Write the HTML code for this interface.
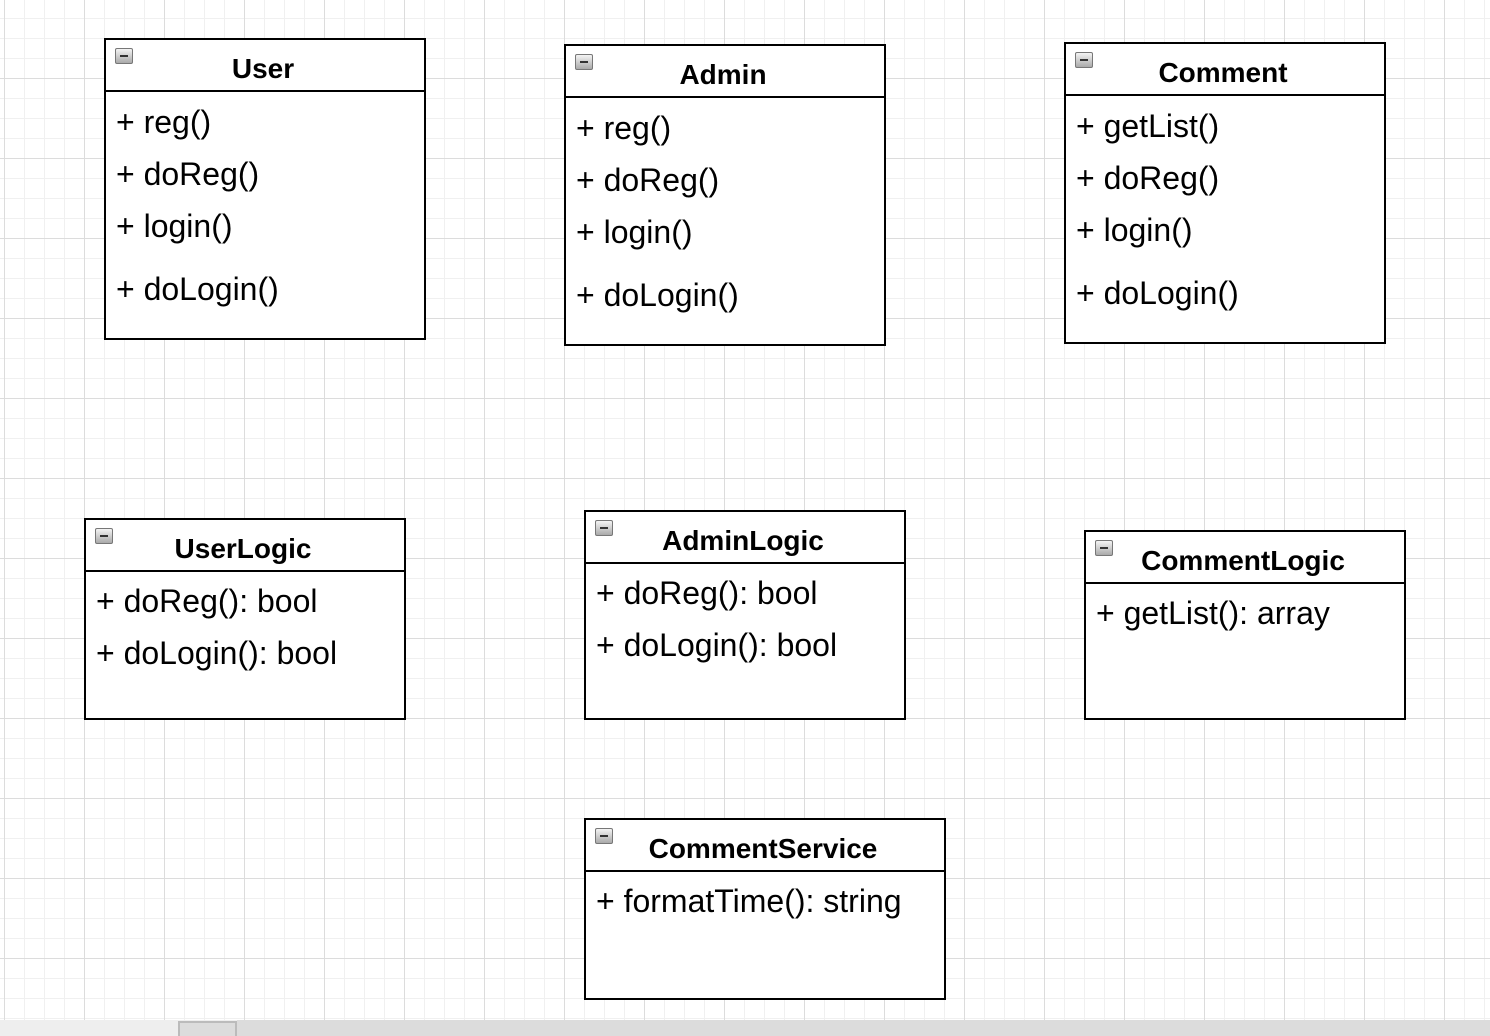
<!DOCTYPE html>
<html><head><style>
body{margin:0;width:1490px;height:1036px;overflow:hidden;position:relative;background:#fff;
background-image:linear-gradient(90deg,#dcdcdc 1px,transparent 1px),linear-gradient(#dcdcdc 1px,transparent 1px),linear-gradient(90deg,#f0f0f0 1px,transparent 1px),linear-gradient(#f0f0f0 1px,transparent 1px);
background-size:80px 80px,80px 80px,20px 20px,20px 20px;background-position:4px -2px,4px -2px,4px -2px,4px -2px;
font-family:"Liberation Sans",Arial,sans-serif;}
.b{position:absolute;border:2px solid #000;background:#fff;box-sizing:border-box}
.h{position:absolute;left:0;right:0;top:0;border-bottom:2px solid #000;font-weight:bold;font-size:28px;text-align:center;height:50px;line-height:58px;padding-right:4px}
.ic{position:absolute;left:9px;top:8px;width:18px;height:16px;border:1px solid #777;background:linear-gradient(#f4f4f4,#aaa);box-sizing:border-box;border-radius:2px}
.ic:after{content:"";position:absolute;left:4px;right:4px;top:6px;height:2px;background:#333}
.i{position:absolute;left:10px;font-size:32px;line-height:32px;white-space:nowrap}
.sb{position:absolute;left:0;top:1020px;width:1490px;height:16px;background:linear-gradient(90deg,#eee 237px,#dcdcdc 237px)}
.th{position:absolute;left:178px;top:1021px;width:59px;height:15px;border:2px solid #bbb;border-bottom:0;box-sizing:border-box;background:#dcdcdc}
</style></head><body>

<div class="b" style="left:104px;top:38px;width:322px;height:302px">
<div class="h">User</div><div class="ic"></div>
<div class="i" style="top:66px">+ reg()</div><div class="i" style="top:118px">+ doReg()</div><div class="i" style="top:170px">+ login()</div><div class="i" style="top:233px">+ doLogin()</div></div>

<div class="b" style="left:564px;top:44px;width:322px;height:302px">
<div class="h">Admin</div><div class="ic"></div>
<div class="i" style="top:66px">+ reg()</div><div class="i" style="top:118px">+ doReg()</div><div class="i" style="top:170px">+ login()</div><div class="i" style="top:233px">+ doLogin()</div></div>

<div class="b" style="left:1064px;top:42px;width:322px;height:302px">
<div class="h">Comment</div><div class="ic"></div>
<div class="i" style="top:66px">+ getList()</div><div class="i" style="top:118px">+ doReg()</div><div class="i" style="top:170px">+ login()</div><div class="i" style="top:233px">+ doLogin()</div></div>

<div class="b" style="left:84px;top:518px;width:322px;height:202px">
<div class="h">UserLogic</div><div class="ic"></div>
<div class="i" style="top:65px">+ doReg(): bool</div><div class="i" style="top:117px">+ doLogin(): bool</div></div>

<div class="b" style="left:584px;top:510px;width:322px;height:210px">
<div class="h">AdminLogic</div><div class="ic"></div>
<div class="i" style="top:65px">+ doReg(): bool</div><div class="i" style="top:117px">+ doLogin(): bool</div></div>

<div class="b" style="left:1084px;top:530px;width:322px;height:190px">
<div class="h">CommentLogic</div><div class="ic"></div>
<div class="i" style="top:65px">+ getList(): array</div></div>

<div class="b" style="left:584px;top:818px;width:362px;height:182px">
<div class="h">CommentService</div><div class="ic"></div>
<div class="i" style="top:65px">+ formatTime(): string</div></div>

<div class="sb"></div><div class="th"></div>
</body></html>
